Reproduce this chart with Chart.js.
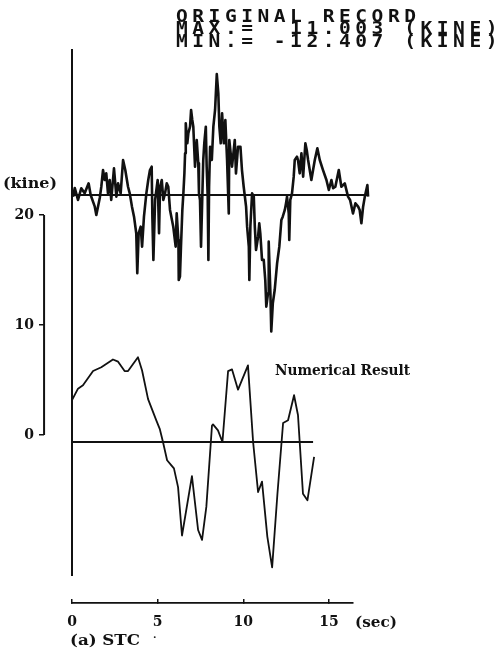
<!DOCTYPE html>
<html>
<head>
<meta charset="utf-8">
<script src="https://cdn.jsdelivr.net/npm/chart.js@4.4.1/dist/chart.umd.min.js"></script>
<style>
  html, body { margin: 0; padding: 0; background: #fff; }
  canvas { display: block; }
</style>
</head>
<body>
<canvas id="chart" width="498" height="668"></canvas>
<script>
// original record (kine) against time (sec)
const ORIG_T = [0.06, 0.16, 0.35, 0.54, 0.74, 0.97, 1.09, 1.33, 1.42, 1.62, 1.71, 1.81, 1.91, 2.0, 2.1, 2.2, 2.29, 2.45, 2.59, 2.69,
   2.84, 2.98, 3.11, 3.27, 3.37, 3.5, 3.62, 3.75, 3.81, 3.89, 4.01, 4.09, 4.2, 4.34,
   4.45, 4.55, 4.65, 4.69, 4.75, 4.85, 5.0, 5.08, 5.14, 5.24, 5.33, 5.43, 5.53, 5.62, 5.72, 5.91, 6.05, 6.11, 6.21, 6.23,
   6.3, 6.36, 6.44, 6.5, 6.56, 6.6, 6.64, 6.73, 6.79, 6.89, 6.95, 7.02, 7.08, 7.18, 7.28, 7.37, 7.41, 7.47, 7.53, 7.61,
   7.66, 7.72, 7.81, 7.86, 7.92, 7.96, 8.0, 8.06, 8.16, 8.25, 8.35, 8.45, 8.54, 8.6, 8.68,
   8.76, 8.86, 8.95, 9.05, 9.15, 9.18, 9.34, 9.5, 9.57, 9.69, 9.83, 9.92, 10.02, 10.16, 10.22, 10.32, 10.35, 10.41, 10.51, 10.61,
   10.67, 10.74, 10.86, 10.93, 10.99, 11.09, 11.19, 11.28, 11.34, 11.44, 11.48, 11.58, 11.63, 11.72, 11.83, 11.97, 12.1, 12.22, 12.3, 12.42,
   12.49, 12.55, 12.65, 12.68, 12.74, 12.84, 12.94, 13.0, 13.13,
   13.19, 13.29, 13.39, 13.49, 13.62, 13.7, 13.78, 13.97, 14.17, 14.32, 14.46, 14.65, 14.85, 14.99, 15.14, 15.24, 15.37, 15.57, 15.72, 15.92,
   16.11, 16.23, 16.4, 16.54, 16.7, 16.79, 16.89, 16.99, 17.09, 17.24, 17.28]
const ORIG_V = [-0.15, 0.64, -0.45, 0.61, 0.15, 1.06, 0, -1.06, -1.82, -0.27, 0.75, 2.27, 1.36, 1.97, 0.15, 1.36, -0.45, 2.43, -0.15, 1.06,
   0.15, 3.18, 2.27, 0.75, 0.15, -1.06, -1.97, -3.48, -7.12, -3.48, -2.88, -4.7, -1.97, 0.15,
   1.36, 2.27, 2.57, -1.97, -5.9, -0.45, 1.36, -3.48, 0.75, 1.36, -0.45, 0.15, 1.06, 0.75, -1.36, -2.88, -4.7, -1.67, -4.09, -7.73,
   -7.42, -4.7, -1.36, 0.15, 1.97, 3.79, 6.52, 4.7, 5.61, 6.21, 7.73, 6.82, 6.21, 2.57, 5.0, 2.88, 0.15, -0.45, -4.7, 0.15,
   3.18, 4.7, 6.21, 2.57, -0.15, -5.9, 0.75, 4.39, 3.18, 6.21, 7.73, 11.0, 9.24, 6.21, 4.7,
   7.42, 4.7, 6.82, 3.18, -1.67, 5.0, 2.57, 5.0, 1.97, 4.39, 4.39, 2.27, 0.75, -1.06, -2.88, -4.7, -7.73, -2.88, 0.15, -0.15,
   -2.88, -5.0, -3.79, -2.57, -3.48, -5.9, -5.9, -7.73, -10.15, -8.94, -4.24, -8.94, -12.4, -9.85, -8.64, -6.21, -4.7, -2.27, -1.97, -1.36,
   -0.76, -0.15, -1.67, -4.09, -0.45, 0.15, 1.67, 3.18, 3.48,
   3.18, 1.97, 3.79, 1.67, 4.7, 4.09, 3.18, 1.36, 3.18, 4.24, 3.18, 2.27, 1.36, 0.45, 1.36, 0.61, 0.75, 2.27, 0.75, 1.06,
   -0.15, -0.45, -1.67, -0.76, -1.06, -1.36, -2.57, -1.06, -0.15, 0.91, -0.15]

// numerical result
const NUM_T = [0, 0.35, 0.64, 1.23, 1.71, 2.39, 2.69, 3.07, 3.27, 3.85, 4.09, 4.44, 4.92, 5.12, 5.31, 5.55, 5.8, 5.95, 6.19, 6.42,
   7.0, 7.36, 7.59, 7.84, 8.17, 8.23, 8.52, 8.78, 9.11, 9.34, 9.69, 10.27, 10.57, 10.86, 11.09, 11.4, 11.68, 11.99, 12.32, 12.61,
   12.96, 13.19, 13.48, 13.74, 14.13]
const NUM_V = [3.8, 4.85, 5.15, 6.45, 6.8, 7.5, 7.3, 6.45, 6.45, 7.7, 6.5, 3.9, 1.97, 1.2, 0, -1.66, -2.12, -2.4, -4.1, -8.5,
   -3.1, -8.0, -8.9, -5.9, 1.5, 1.6, 1.06, 0, 6.45, 6.6, 4.76, 6.97, 0, -4.55, -3.6, -8.6, -11.4, -4.7, 1.73, 1.97,
   4.25, 2.43, -4.7, -5.3, -1.36]

const X_TICKS = [0, 5, 10, 15]
const KINE_TICKS = [0, 10, 20]
const KINE_BAR = [0, 20]
const X_END = 16.4
const ORIG_BASE_END = 17.28
const NUM_BASE_END = 14.07
const KINE_BAR_X = -1.63
const HEADER = ['ORIGINAL RECORD', 'MAX.=  11.003 (KINE)', 'MIN.= -12.407 (KINE)']

// layout, pixels
const AREA_TOP = 50
const AREA_BOTTOM = 575
const PX_PER_KINE = 11.0
const INK = '#111'
const SERIF = 'DejaVu Serif'

function yRange(zeroPx) {
   return { min: -(AREA_BOTTOM - zeroPx) / PX_PER_KINE, max: (zeroPx - AREA_TOP) / PX_PER_KINE }
}

function pts(xs, ys) {
   return xs.map((x, i) => ({ x: x, y: ys[i] }))
}

function line(label, data, yAxisID, width) {
   return {
      label: label,
      data: data,
      xAxisID: 'x',
      yAxisID: yAxisID,
      borderColor: INK,
      borderWidth: width,
      borderJoinStyle: 'round',
      pointRadius: 0,
      tension: 0,
      fill: false,
      clip: false
   }
}

// squeeze or stretch a text to the width it has in the scan
function fitText(ctx, text, x, y, font, width) {
   ctx.save()
   ctx.font = font
   const w = ctx.measureText(text).width
   ctx.translate(x, y)
   ctx.scale(width / w, 1)
   ctx.fillText(text, 0, 0)
   ctx.restore()
}

const labelsPlugin = {
   id: 'labels',
   afterDraw(chart) {
      const ctx = chart.ctx
      ctx.save()
      ctx.fillStyle = INK
      ctx.textAlign = 'left'

      // plotter header, fixed pitch, wide glyphs
      ctx.textBaseline = 'alphabetic'
      ctx.font = 'bold 17px "DejaVu Sans Mono"'
      HEADER.forEach((row, r) => {
         for (let i = 0; i < row.length; i++) {
            ctx.save()
            ctx.translate(176 + i * 16.3, 21.5 + r * 12.8)
            ctx.scale(1.15, 1)
            ctx.fillText(row[i], 0, 0)
            ctx.restore()
         }
      })

      ctx.textBaseline = 'middle'
      fitText(ctx, '(kine)', 3, 184, `bold 15px "${SERIF}"`, 54)
      fitText(ctx, 'Numerical Result', 275, 371, `bold 15px "${SERIF}"`, 135)
      fitText(ctx, '(sec)', 355, 623, `bold 14px "${SERIF}"`, 42)
      fitText(ctx, '(a) STC', 70, 641, `bold 14px "${SERIF}"`, 70)
      ctx.font = `bold 10px "${SERIF}"`
      ctx.fillText('·', 153, 637)
      ctx.restore()
   }
}

const tickFont = { family: SERIF, weight: 'bold', size: 14 }

new Chart(document.getElementById('chart'), {
   type: 'line',
   data: {
      datasets: [
         line('Original record', pts(ORIG_T, ORIG_V), 'yTop', 2.6),
         line('Original baseline', pts([0, ORIG_BASE_END], [0, 0]), 'yTop', 1.8),
         line('Numerical Result', pts(NUM_T, NUM_V), 'yBot', 1.8),
         line('Numerical baseline', pts([0, NUM_BASE_END], [0, 0]), 'yBot', 1.8),
         line('kine', pts([KINE_BAR_X, KINE_BAR_X], KINE_BAR), 'yKine', 2)
      ]
   },
   options: {
      responsive: false,
      animation: false,
      events: [],
      layout: { padding: { top: AREA_TOP, bottom: 25, left: 0, right: 145 } },
      plugins: {
         legend: { display: false },
         tooltip: { enabled: false }
      },
      scales: {
         x: {
            type: 'linear',
            position: 'bottom',
            weight: 2,
            bounds: 'data',
            // set the range here so that the traces are not cut at the axis end
            afterDataLimits: s => { s.min = 0; s.max = X_END },
            afterBuildTicks: s => { s.ticks = X_TICKS.map(v => ({ value: v })) },
            afterFit: s => { s.height = 40 },
            grid: { drawOnChartArea: false, tickLength: -4, color: INK, lineWidth: 1.5 },
            border: { display: true, color: INK, width: 1.8 },
            ticks: { padding: 15, color: INK, font: tickFont, maxRotation: 0, autoSkip: false }
         },
         xGap: {
            type: 'linear',
            position: 'bottom',
            weight: 1,
            afterFit: s => { s.height = 28 },
            grid: { display: false },
            border: { display: false },
            ticks: { display: false }
         },
         yTop: {
            type: 'linear',
            position: 'left',
            weight: 1,
            ...yRange(195),
            afterFit: s => { s.width = 28 },
            grid: { display: false },
            border: { display: true, color: INK, width: 2 },
            ticks: { display: false }
         },
         yBot: {
            type: 'linear',
            display: false,
            ...yRange(442)
         },
         yKine: {
            type: 'linear',
            position: 'left',
            weight: 2,
            ...yRange(435),
            afterBuildTicks: s => { s.ticks = KINE_TICKS.map(v => ({ value: v })) },
            afterFit: s => { s.width = 44 },
            grid: { drawOnChartArea: false, tickLength: 5, color: INK, lineWidth: 1.5 },
            border: { display: false },
            ticks: { padding: 5, color: INK, font: tickFont }
         }
      }
   },
   plugins: [labelsPlugin]
})
</script>
</body>
</html>
